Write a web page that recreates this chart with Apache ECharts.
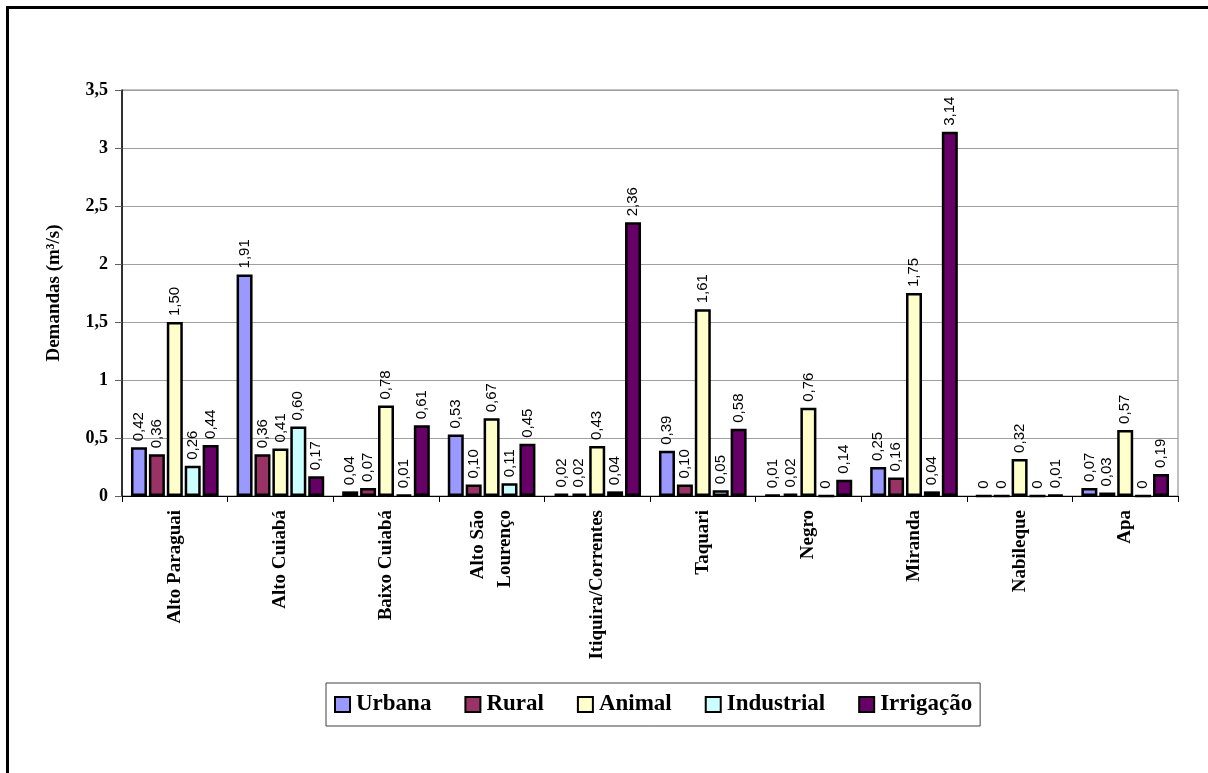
<!DOCTYPE html>
<html>
<head>
<meta charset="utf-8">
<script src="https://cdn.jsdelivr.net/npm/echarts@6/dist/echarts.min.js"></script>
<style>html,body{margin:0;padding:0;background:#fff}#c{width:1208px;height:773px}</style>
</head>
<body>
<div id="c"></div>
<script>
const categories = ['Alto Paraguai', 'Alto Cuiabá', 'Baixo Cuiabá', 'Alto São\nLourenço', 'Itiquira/Correntes', 'Taquari', 'Negro', 'Miranda', 'Nabileque', 'Apa'];
const seriesNames = ['Urbana', 'Rural', 'Animal', 'Industrial', 'Irrigação'];
const urbana     = [0.42, 1.91, 0.04, 0.53, 0.02, 0.39, 0.01, 0.25, 0, 0.07];
const rural      = [0.36, 0.36, 0.07, 0.10, 0.02, 0.10, 0.02, 0.16, 0, 0.03];
const animal     = [1.50, 0.41, 0.78, 0.67, 0.43, 1.61, 0.76, 1.75, 0.32, 0.57];
const industrial = [0.26, 0.60, 0.01, 0.11, 0.04, 0.05, 0, 0.04, 0, 0];
const irrigacao  = [0.44, 0.17, 0.61, 0.45, 2.36, 0.58, 0.14, 3.14, 0.01, 0.19];
const yAxisName = 'Demandas (m³/s)';
const colors = ['#9999FF', '#993366', '#FFFFCC', '#CCFFFF', '#660066'];
const seriesData = [urbana, rural, animal, industrial, irrigacao];

const chart = echarts.init(document.getElementById('c'));
const fmt = v => v === 0 ? '0' : v.toFixed(2).replace('.', ',');

const series = seriesNames.map((name, i) => ({
  name: name,
  type: 'bar',
  data: seriesData[i],
  barGap: '12%',
  barCategoryGap: '17%',
  itemStyle: { color: colors[i], borderColor: '#000', borderWidth: 2.5 },
  label: {
    show: true,
    position: 'top',
    rotate: 90,
    align: 'left',
    verticalAlign: 'middle',
    distance: 6,
    fontFamily: 'Liberation Sans',
    fontSize: 15,
    color: '#000',
    formatter: p => fmt(p.value)
  },
  emphasis: { disabled: true }
}));

chart.setOption({
  animation: false,
  backgroundColor: '#fff',
  color: colors,
  graphic: [{
    type: 'rect',
    shape: { x: 7.5, y: 7.5, width: 1260, height: 820 },
    style: { fill: 'none', stroke: '#000', lineWidth: 3 },
    silent: true
  }],
  grid: {
    left: 122, right: 30, top: 90, bottom: 277,
    show: true, borderColor: '#808080', borderWidth: 1, backgroundColor: 'transparent'
  },
  legend: {
    data: seriesNames,
    left: 326, top: 683,
    orient: 'horizontal',
    padding: [10, 8, 10, 8],
    itemGap: 33,
    itemWidth: 15,
    itemHeight: 15,
    icon: 'rect',
    borderColor: '#404040',
    borderWidth: 1,
    itemStyle: { borderColor: '#000', borderWidth: 2 },
    textStyle: { fontFamily: 'Liberation Serif', fontWeight: 'bold', fontSize: 23, color: '#000', padding: [0, 0, 0, 1] }
  },
  xAxis: {
    type: 'category',
    data: categories,
    axisLine: { lineStyle: { color: '#000', width: 1 } },
    axisTick: { show: true, length: 6, lineStyle: { color: '#000' } },
    axisLabel: {
      rotate: 90,
      margin: 14,
      interval: 0,
      fontFamily: 'Liberation Serif',
      fontWeight: 'bold',
      fontSize: 19,
      lineHeight: 27,
      color: '#000'
    }
  },
  yAxis: {
    type: 'value',
    min: 0, max: 3.5, interval: 0.5,
    name: yAxisName,
    nameLocation: 'middle',
    nameGap: 58,
    nameTextStyle: { fontFamily: 'Liberation Serif', fontWeight: 'bold', fontSize: 19, color: '#000' },
    axisLine: { show: true, lineStyle: { color: '#000', width: 1.5 } },
    axisTick: { show: true, length: 7, lineStyle: { color: '#606060' } },
    splitLine: { lineStyle: { color: '#a0a0a0', width: 1 } },
    axisLabel: {
      margin: 14,
      fontFamily: 'Liberation Serif',
      fontWeight: 'bold',
      fontSize: 18,
      color: '#000',
      formatter: v => String(v).replace('.', ',')
    }
  },
  series: series
});
</script>
</body>
</html>
